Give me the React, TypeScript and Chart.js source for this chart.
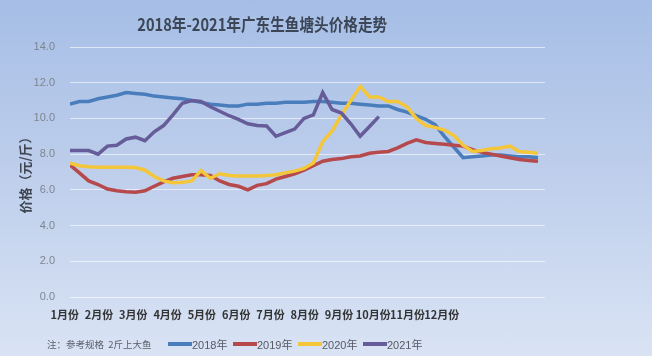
import React, { useEffect, useRef } from 'react';
import { Chart, registerables } from 'chart.js';

Chart.register(...registerables);

// ---- data ----
const monthLabels = ['1月份', '2月份', '3月份', '4月份', '5月份', '6月份', '7月份', '8月份', '9月份', '10月份', '11月份', '12月份'];
const yTickValues = [0, 2, 4, 6, 8, 10, 12, 14];
const seriesNames = ['2018年', '2019年', '2020年', '2021年'];

const price2018 = [
  10.8, 10.95, 10.95, 11.1, 11.2, 11.3, 11.45, 11.4, 11.35, 11.25,
  11.2, 11.15, 11.1, 11.0, 10.9, 10.8, 10.75, 10.7, 10.7, 10.8,
  10.8, 10.85, 10.85, 10.9, 10.9, 10.9, 10.95, 10.95, 10.9, 10.85,
  10.85, 10.8, 10.75, 10.7, 10.7, 10.5, 10.35, 10.15, 9.95, 9.65,
  9.0, 8.4, 7.8, 7.85, 7.9, 7.95, 7.95, 7.9, 7.85, 7.85, 7.8,
];
const price2019 = [
  7.4, 6.95, 6.5, 6.3, 6.05, 5.95, 5.9, 5.87, 5.95, 6.2,
  6.45, 6.65, 6.75, 6.85, 6.85, 6.8, 6.5, 6.3, 6.2, 6.0,
  6.25, 6.35, 6.6, 6.75, 6.9, 7.1, 7.35, 7.6, 7.7, 7.75,
  7.85, 7.9, 8.05, 8.1, 8.15, 8.35, 8.6, 8.8, 8.65, 8.6,
  8.55, 8.5, 8.45, 8.25, 8.1, 8.0, 7.9, 7.8, 7.7, 7.65, 7.6,
];
const price2020 = [
  7.5, 7.35, 7.3, 7.27, 7.27, 7.27, 7.27, 7.25, 7.1, 6.75,
  6.5, 6.4, 6.42, 6.5, 7.08, 6.65, 6.9, 6.8, 6.78, 6.78,
  6.78, 6.8, 6.85, 6.95, 7.05, 7.2, 7.5, 8.7, 9.3, 10.2,
  11.0, 11.8, 11.2, 11.2, 10.95, 10.95, 10.65, 10.0, 9.6, 9.5,
  9.35, 9.05, 8.5, 8.15, 8.2, 8.3, 8.35, 8.45, 8.15, 8.1, 8.05,
];
const price2021 = [
  8.2, 8.2, 8.2, 8.0, 8.45, 8.5, 8.85, 8.95, 8.75, 9.25,
  9.6, 10.2, 10.85, 11.0, 10.95, 10.65, 10.4, 10.15, 9.95, 9.7,
  9.6, 9.58, 9.0, 9.2, 9.4, 10.0, 10.2, 11.45, 10.5, 10.3,
  9.7, 9.0, 9.55, 10.1,
];

const seriesValues = [price2018, price2019, price2020, price2021];
const seriesColors = ['#4a7dbb', '#b5494c', '#f4c63a', '#665c99'];

const noteText = '注：参考规格  2斤上大鱼';
const titleText = '2018年-2021年广东生鱼塘头价格走势';
const yTitleText = '价格（元/斤）';

// month label placement along the weekly index axis
const monthTickStart = -0.55;
const monthTickStep = 3.66;

export default function App() {
  const canvasRef = useRef<HTMLCanvasElement | null>(null);

  useEffect(() => {
    document.body.style.margin = '0';
    const canvas = canvasRef.current;
    if (!canvas) return;
    const datasets = seriesValues.map((vals, si) => ({
      label: seriesNames[si],
      data: vals.map((v, i) => ({ x: i, y: v })),
      borderColor: seriesColors[si],
      backgroundColor: seriesColors[si],
      borderWidth: 3.5,
      pointRadius: 0,
      tension: 0,
      fill: false,
      order: seriesValues.length - si,
    }));

    const chart = new Chart(canvas, {
      type: 'line',
      data: { datasets },
      options: {
        animation: false,
        responsive: false,
        devicePixelRatio: 1,
        layout: { padding: { left: 0, right: 107, top: 47, bottom: 0 } },
        plugins: {
          legend: { display: false },
          tooltip: { enabled: false },
          title: { display: false },
        },
        scales: {
          x: {
            type: 'linear',
            min: 0,
            max: 50.75,
            grid: { display: false },
            border: { display: false },
            afterBuildTicks: (scale: any) => {
              scale.ticks = monthLabels.map((_, k) => ({ value: monthTickStart + k * monthTickStep }));
            },
            afterFit: (scale: any) => {
              scale.height = 59;
            },
            ticks: {
              autoSkip: false,
              maxRotation: 0,
              minRotation: 0,
              padding: 3,
              color: '#333333',
              font: { family: '"Noto Sans CJK SC", sans-serif', size: 11, weight: 'bold' },
              callback: (_v: any, i: number) => monthLabels[i],
            },
          },
          y: {
            type: 'linear',
            min: 0,
            max: 14,
            afterBuildTicks: (scale: any) => {
              scale.ticks = yTickValues.map((v) => ({ value: v }));
            },
            afterFit: (scale: any) => {
              scale.width = 70;
            },
            grid: { color: 'rgba(255,255,255,0.6)', lineWidth: 1, drawTicks: false },
            border: { display: false },
            ticks: {
              padding: 15,
              color: '#7f8590',
              font: { family: '"Liberation Sans", sans-serif', size: 11 },
              callback: (v: any) => Number(v).toFixed(1),
            },
            title: {
              display: true,
              text: yTitleText,
              color: '#3f4652',
              padding: { top: 17, bottom: 0 },
              font: { family: '"Noto Sans CJK SC", sans-serif', size: 13, weight: 'bold' },
            },
          },
        },
      },
    });
    return () => chart.destroy();
  }, []);

  return (
    <div
      style={{
        position: 'relative',
        width: 652,
        height: 356,
        overflow: 'hidden',
        background: 'linear-gradient(180deg, #a6bee6 0%, #bccdeb 45%, #d9e3f4 100%)',
        fontFamily: '"Noto Sans CJK SC", sans-serif',
      }}
    >
      <canvas ref={canvasRef} width={652} height={356} style={{ position: 'absolute', left: 0, top: 0 }} />
      <div
        style={{
          position: 'absolute',
          left: 0,
          top: 13,
          width: 524,
          textAlign: 'center',
          fontSize: 17,
          lineHeight: '22px',
          fontWeight: 'bold',
          color: '#3c4656',
        }}
      >
        <span style={{ display: 'inline-block', transform: 'scaleX(0.86)', whiteSpace: 'nowrap' }}>{titleText}</span>
      </div>
      <div
        style={{
          position: 'absolute',
          left: 47,
          top: 336,
          fontSize: 9.5,
          lineHeight: '16px',
          color: '#5a5f68',
          whiteSpace: 'pre',
        }}
      >
        {noteText}
      </div>
      <div style={{ position: 'absolute', left: 168, top: 336, display: 'flex', alignItems: 'center', height: 16 }}>
        {seriesNames.map((name, i) => (
          <div key={name} style={{ display: 'flex', alignItems: 'center', width: 65 }}>
            <span style={{ display: 'inline-block', width: 24, height: 4, background: seriesColors[i] }} />
            <span style={{ fontSize: 11, color: '#555a63', fontFamily: '"Liberation Sans", "Noto Sans CJK SC", sans-serif' }}>{name}</span>
          </div>
        ))}
      </div>
    </div>
  );
}
